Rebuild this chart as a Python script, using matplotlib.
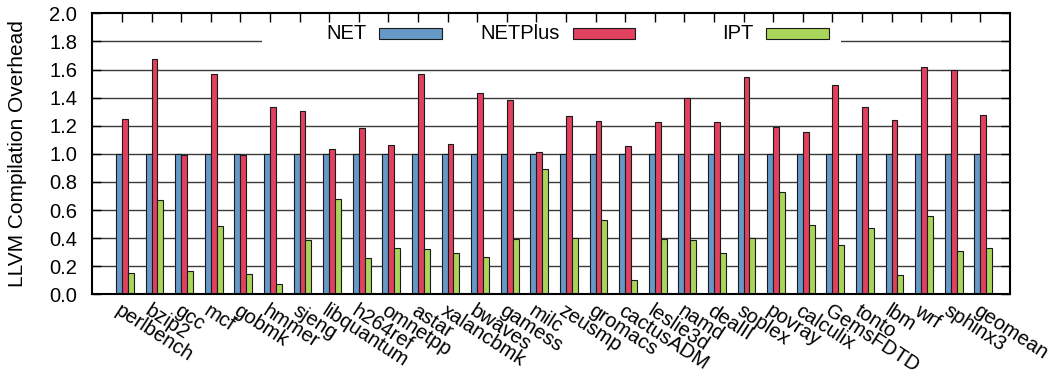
import numpy as np
import matplotlib
matplotlib.use("Agg")
import matplotlib.pyplot as plt
from matplotlib.patches import Rectangle

plt.rcParams['font.family'] = ['Liberation Sans', 'DejaVu Sans']
plt.rcParams['font.size'] = 14.5

# data
benchmarks = ["perlbench", "bzip2", "gcc", "mcf", "gobmk", "hmmer", "sjeng",
              "libquantum", "h264ref", "omnetpp", "astar", "xalancbmk", "bwaves",
              "gamess", "milc", "zeusmp", "gromacs", "cactusADM", "leslie3d", "namd",
              "dealII", "soplex", "povray", "calculix", "GemsFDTD", "tonto", "lbm",
              "wrf", "sphinx3", "geomean"]
net = [1.0] * len(benchmarks)
net_plus = [1.25, 1.675, 0.99, 1.568, 0.99, 1.333, 1.302, 1.034, 1.184, 1.063,
            1.568, 1.068, 1.433, 1.383, 1.015, 1.267, 1.231, 1.058, 1.224, 1.400,
            1.224, 1.547, 1.191, 1.155, 1.488, 1.336, 1.238, 1.618, 1.597, 1.274]
ipt = [0.149, 0.671, 0.166, 0.486, 0.142, 0.071, 0.384, 0.678, 0.261, 0.330,
       0.325, 0.294, 0.268, 0.391, 0.894, 0.403, 0.527, 0.100, 0.394, 0.387,
       0.294, 0.401, 0.726, 0.491, 0.353, 0.470, 0.135, 0.555, 0.308, 0.330]

series = [("NET", net, "#6699c8"),
          ("NETPlus", net_plus, "#e0415f"),
          ("IPT", ipt, "#a9d55a")]

yticks = np.arange(0, 2.01, 0.2)
width = 0.2

fig = plt.figure(figsize=(10.59, 3.75), dpi=100)
ax = fig.add_axes([0.0872, 0.2152, 0.9537 - 0.0872, 0.9645 - 0.2152])

x = np.arange(len(benchmarks))
for k, (name, vals, col) in enumerate(series):
    ax.bar(x + (k - 1) * width, vals, width, align='edge', color=col,
           edgecolor='#1a1a1a', linewidth=0.8, zorder=1)

# grid lines behind the bars
for yv in yticks[1:-1]:
    ax.axhline(yv, color='#3a3a3a', linewidth=1.0, zorder=0.5)

# key: white backdrop, text then sample box
ax.add_patch(Rectangle((0.185, 0.87), 0.631, 0.13, transform=ax.transAxes,
                       facecolor='white', edgecolor='none', zorder=0.7))
x0, step, bw = 0.3127, 0.2109, 0.068
for k, (name, vals, col) in enumerate(series):
    bx = x0 + k * step
    ax.add_patch(Rectangle((bx, 0.9085), bw, 0.0402, transform=ax.transAxes,
                           facecolor=col, edgecolor='#1a1a1a', linewidth=0.8,
                           zorder=3))
    ax.text(bx - 0.0142, 0.9286, name, transform=ax.transAxes, ha='right',
            va='center', zorder=3)

ax.set_xlim(-1, 30)
ax.set_ylim(0, 2.0)
ax.set_yticks(yticks)
ax.set_yticklabels(["%.1f" % v for v in yticks])
ax.set_xticks(x)
ax.set_xticklabels(benchmarks)
ax.tick_params(axis='both', direction='in', length=6.5, width=1.0,
               top=True, right=True)
ax.tick_params(axis='x', bottom=False, pad=5)
ax.tick_params(axis='y', pad=11)
plt.setp(ax.get_xticklabels(), rotation=-33, ha='left', va='top',
         rotation_mode='anchor')
for s in ax.spines.values():
    s.set_linewidth(1.5)
    s.set_zorder(4)

ax.set_ylabel("LLVM Compilation Overhead", fontsize=15)
ax.yaxis.set_label_coords(-0.071, 0.5)

fig.savefig("out.png", dpi=100)
